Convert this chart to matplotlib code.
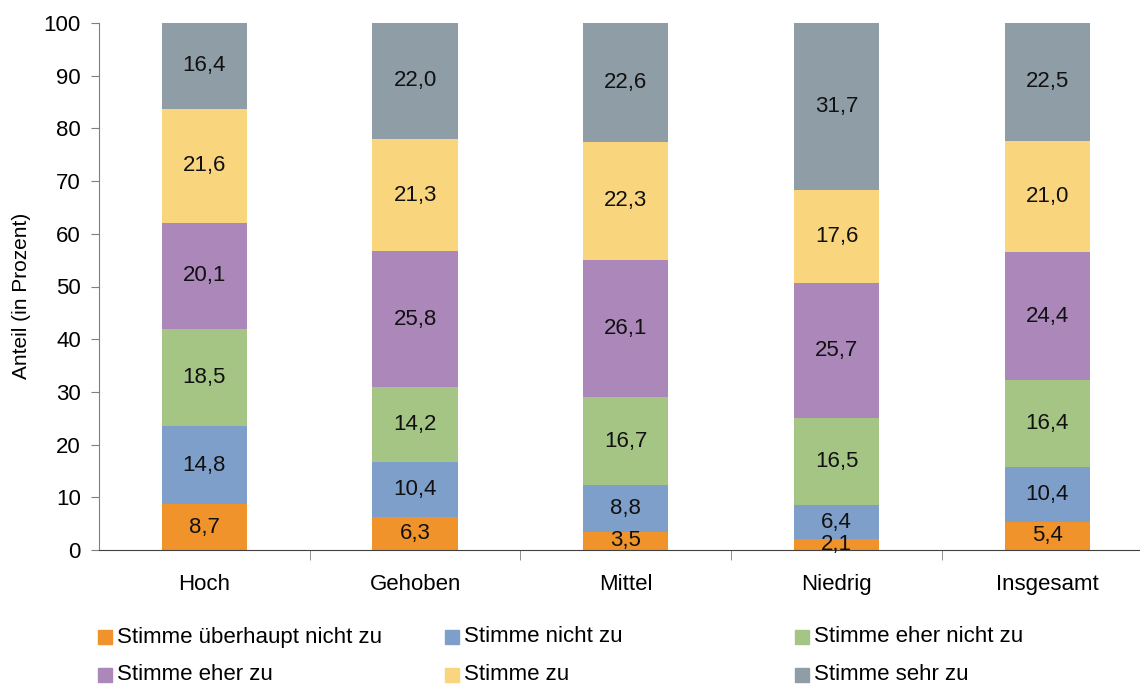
import matplotlib.pyplot as plt
import numpy as np
from matplotlib.patches import Rectangle

plt.rcParams["font.family"] = ["Liberation Sans", "DejaVu Sans"]

categories = ["Hoch", "Gehoben", "Mittel", "Niedrig", "Insgesamt"]
series = ["Stimme überhaupt nicht zu", "Stimme nicht zu", "Stimme eher nicht zu",
          "Stimme eher zu", "Stimme zu", "Stimme sehr zu"]
ueberhaupt_nicht = [8.7, 6.3, 3.5, 2.1, 5.4]
nicht = [14.8, 10.4, 8.8, 6.4, 10.4]
eher_nicht = [18.5, 14.2, 16.7, 16.5, 16.4]
eher = [20.1, 25.8, 26.1, 25.7, 24.4]
zu = [21.6, 21.3, 22.3, 17.6, 21.0]
sehr = [16.4, 22.0, 22.6, 31.7, 22.5]
colors = ["#F0932B", "#7F9FCB", "#A5C584", "#AB87BA", "#F9D57D", "#8F9DA7"]

values = [ueberhaupt_nicht, nicht, eher_nicht, eher, zu, sehr]

fig = plt.figure(figsize=(11.4, 6.84), dpi=100)
ax = fig.add_axes([99 / 1140, 1 - 550 / 684, 1 - 99 / 1140, 527 / 684])

x = np.arange(len(categories))
bottom = np.zeros(len(categories))
for name, vals, col in zip(series, values, colors):
    vals = np.array(vals)
    ax.bar(x, vals, 0.405, bottom=bottom, color=col, label=name, zorder=2)
    for xi, b, v in zip(x, bottom, vals):
        ax.text(xi, b + v / 2, f"{v:.1f}".replace(".", ","), ha="center", va="center",
                fontsize=16, color="#111111", zorder=3)
    bottom += vals

ax.set_xlim(-0.5, 4.44)
ax.set_ylim(0, 100)
ax.set_yticks(np.arange(0, 101, 10))
ax.tick_params(axis="y", labelsize=16, length=6, color="#7f7f7f", direction="out", pad=7)
ax.set_xticks(x)
ax.set_xticklabels(categories, fontsize=16)
ax.set_xticks(np.arange(0.5, 4.5, 1), minor=True)
ax.tick_params(axis="x", which="major", length=0, pad=17)
ax.tick_params(axis="x", which="minor", length=7, color="#7f7f7f")
for s in ["top", "right"]:
    ax.spines[s].set_visible(False)
ax.spines["left"].set_color("#7f7f7f")
ax.spines["bottom"].set_color("#404040")
ax.set_ylabel("Anteil (in Prozent)", fontsize=15)
ax.yaxis.set_label_coords(-0.065, 0.482)

# legend, row-wise, 3 columns
col_x = [98, 445, 795]
row_y = [637, 675]
for i, (name, col) in enumerate(zip(series, colors)):
    cx = col_x[i % 3]
    cy = row_y[i // 3]
    fig.patches.append(Rectangle((cx / 1140, 1 - (cy + 7) / 684), 14 / 1140, 14 / 684,
                                 transform=fig.transFigure, color=col))
    fig.text((cx + 19) / 1140, 1 - cy / 684, name, fontsize=16, va="center", ha="left")

fig.savefig("out.png", dpi=100)
